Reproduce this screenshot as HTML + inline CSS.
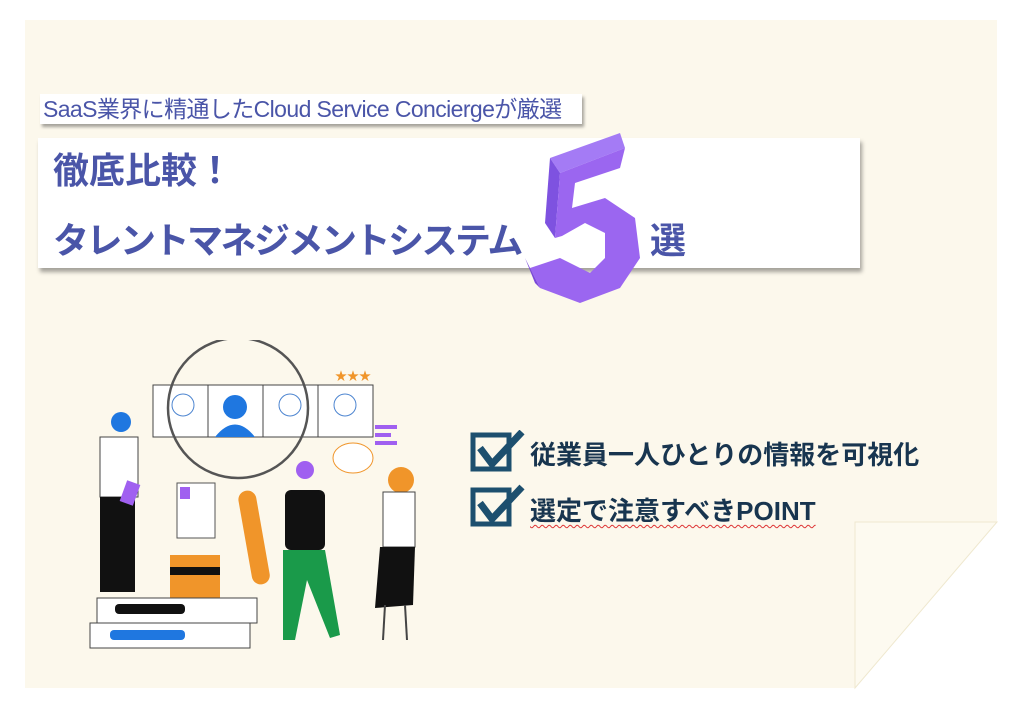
<!DOCTYPE html>
<html><head><meta charset="utf-8"><style>
body{margin:0;width:1024px;height:704px;background:#fff;position:relative;overflow:hidden;font-family:"Liberation Sans","Noto Sans CJK JP",sans-serif}
.card{position:absolute;left:25px;top:20px;width:972px;height:668px;background:#fcf8ec}
.sub{position:absolute;left:40px;top:94px;height:30px;width:542px;background:#fff;box-shadow:2px 3px 3px rgba(0,0,0,.35);color:#4a55a8;font-size:23px;line-height:30px;padding-left:3px;box-sizing:border-box;white-space:nowrap;letter-spacing:-0.6px}
.main{position:absolute;left:38px;top:138px;width:822px;height:130px;background:#fff;box-shadow:2px 4px 4px rgba(0,0,0,.35)}
.t{position:absolute;color:#4a55a8;font-weight:bold;white-space:nowrap}
.chk{position:absolute;color:#18354f;font-weight:bold;font-size:26px;white-space:nowrap}
</style></head><body>
<div class="card"></div>
<svg style="position:absolute;left:0;top:0" width="1024" height="704">
<polygon points="855,688 997,522 997,688" fill="#fff"/>
<polygon points="855,522 997,522 855,688" fill="#fdfaf0" stroke="#efe8cf" stroke-width="1"/>
</svg>
<div class="sub">SaaS業界に精通したCloud Service Conciergeが厳選</div>
<div class="main"></div>
<div class="t" style="left:53px;top:142px;font-size:36px">徹底比較！</div>
<div class="t" style="left:53px;top:212px;font-size:36px;letter-spacing:-2.5px">タレントマネジメントシステム</div>
<div class="t" style="left:650px;top:212px;font-size:36px">選</div>
<svg style="position:absolute;left:520px;top:128px" width="130" height="180">
<polygon points="30,30 100,5 105,20 40,45" fill="#a47bf5"/>
<polygon points="30,30 40,45 35,110 25,95" fill="#7e52e0"/>
<polygon points="40,45 105,20 100,40 55,55 52,80 85,70 115,90 120,130 100,160 60,175 20,160 10,140 40,130 70,145 85,130 85,105 65,95 42,108 35,110" fill="#9b66f0"/>
<polygon points="10,140 20,160 15,155 5,130" fill="#7a48d8"/>
</svg>
<svg style="position:absolute;left:85px;top:340px" width="350" height="320">
<rect x="68" y="45" width="220" height="52" fill="#fff" stroke="#444"/>
<line x1="123" y1="45" x2="123" y2="97" stroke="#444"/><line x1="178" y1="45" x2="178" y2="97" stroke="#444"/><line x1="233" y1="45" x2="233" y2="97" stroke="#444"/>
<circle cx="150" cy="67" r="12" fill="#1f77e0"/><path d="M130,97 Q150,72 170,97Z" fill="#1f77e0"/>
<circle cx="260" cy="65" r="11" fill="none" stroke="#4d85d0"/><circle cx="205" cy="65" r="11" fill="none" stroke="#4d85d0"/><circle cx="98" cy="65" r="11" fill="none" stroke="#4d85d0"/>
<text x="250" y="40" fill="#f0952a" font-size="12">★★★</text>
<rect x="290" y="85" width="22" height="4" fill="#a060f0"/><rect x="290" y="93" width="16" height="4" fill="#a060f0"/><rect x="290" y="101" width="22" height="4" fill="#a060f0"/>
<circle cx="153" cy="68" r="70" fill="none" stroke="#555" stroke-width="2.5"/>
<rect x="160" y="150" width="18" height="95" rx="9" fill="#f0952a" transform="rotate(-10 169 197)"/>
<rect x="92" y="143" width="38" height="55" fill="#fff" stroke="#555"/>
<rect x="95" y="147" width="10" height="12" fill="#a060f0"/>
<rect x="85" y="215" width="50" height="45" fill="#f0952a"/><rect x="85" y="227" width="50" height="8" fill="#111"/>
<rect x="12" y="258" width="160" height="25" fill="#fff" stroke="#444"/><rect x="30" y="264" width="70" height="10" rx="4" fill="#111"/>
<rect x="5" y="283" width="160" height="25" fill="#fff" stroke="#444"/><rect x="25" y="290" width="75" height="10" rx="4" fill="#1f77e0"/>
<circle cx="36" cy="82" r="10" fill="#1f77e0"/>
<rect x="15" y="97" width="38" height="60" fill="#fff" stroke="#444"/>
<rect x="15" y="157" width="35" height="95" fill="#111"/>
<rect x="38" y="142" width="14" height="22" fill="#a060f0" transform="rotate(20 45 153)"/>
<circle cx="220" cy="130" r="9" fill="#a060f0"/>
<rect x="200" y="150" width="40" height="60" rx="6" fill="#111"/>
<path d="M198,210 L240,210 L255,295 L245,298 L222,240 L210,300 L198,300Z" fill="#1a9a4a"/>
<ellipse cx="268" cy="118" rx="20" ry="15" fill="#fff" stroke="#f0952a"/>
<circle cx="316" cy="140" r="13" fill="#f0952a"/>
<rect x="298" y="152" width="32" height="55" fill="#fff" stroke="#444"/>
<path d="M295,207 L330,207 L328,265 L290,268Z" fill="#111"/>
<line x1="300" y1="265" x2="298" y2="300" stroke="#444" stroke-width="2"/><line x1="320" y1="265" x2="322" y2="300" stroke="#444" stroke-width="2"/>
</svg>
<svg style="position:absolute;left:470px;top:430px" width="60" height="110">
<rect x="3" y="5" width="36" height="34" fill="none" stroke="#1d4f6e" stroke-width="5"/>
<path d="M10,18 L22,34 L52,2" fill="none" stroke="#1d4f6e" stroke-width="7"/>
<rect x="3" y="60" width="36" height="34" fill="none" stroke="#1d4f6e" stroke-width="5"/>
<path d="M10,73 L22,89 L52,57" fill="none" stroke="#1d4f6e" stroke-width="7"/>
</svg>
<div class="chk" style="left:530px;top:435px">従業員一人ひとりの情報を可視化</div>
<div class="chk" style="left:530px;top:491px;text-decoration:underline wavy #d33;text-decoration-thickness:1px;text-underline-offset:4px">選定で注意すべきPOINT</div>
</body></html>
